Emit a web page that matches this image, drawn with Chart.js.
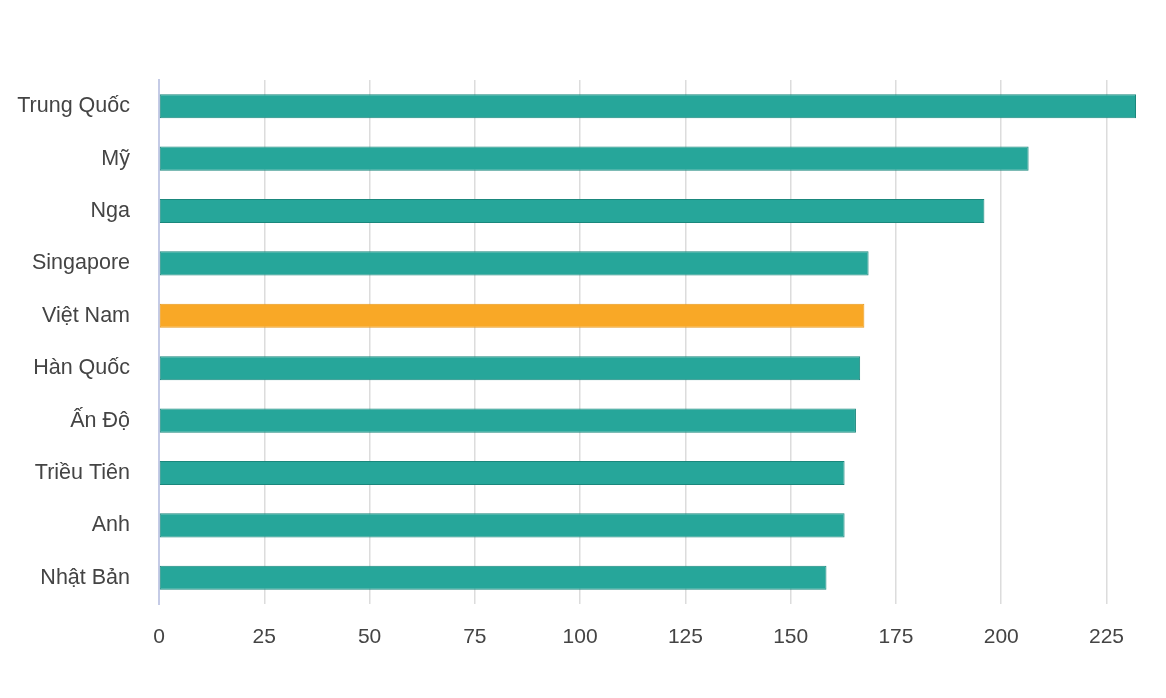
<!DOCTYPE html>
<html>
<head>
<meta charset="utf-8">
<script src="https://cdn.jsdelivr.net/npm/chart.js@4"></script>
<style>
  html, body { margin: 0; padding: 0; background: #fff; }
  #wrap { width: 1166px; height: 698px; position: relative; }
</style>
</head>
<body>
<div id="wrap"><canvas id="chart"></canvas></div>
<script>
const countries = ['Trung Quốc', 'Mỹ', 'Nga', 'Singapore', 'Việt Nam', 'Hàn Quốc', 'Ấn Độ', 'Triều Tiên', 'Anh', 'Nhật Bản']
const values = [232, 206.5, 196, 168.5, 167.5, 166.5, 165.5, 162.8, 162.8, 158.5]
const highlight = 'Việt Nam'
const xTicksMax = 232

const teal = '#26a69a'
const tealEdge = '#1a877c'
const orange = '#f9a826'
const orangeEdge = '#e8991c'

const fontFamily = '"Liberation Sans", Arial, sans-serif'

new Chart(document.getElementById('chart'), {
  type: 'bar',
  data: {
    labels: countries,
    datasets: [
      {
        data: values,
        backgroundColor: countries.map((c) => (c === highlight ? orange : teal)),
        borderColor: countries.map((c) => (c === highlight ? orangeEdge : tealEdge)),
        borderWidth: 1,
        borderSkipped: false,
        categoryPercentage: 1,
        barPercentage: 0.46,
      },
    ],
  },
  options: {
    indexAxis: 'y',
    responsive: true,
    maintainAspectRatio: false,
    animation: false,
    layout: { padding: { top: 80, right: 30, left: 0, bottom: 0 } },
    plugins: { legend: { display: false }, tooltip: { enabled: false } },
    scales: {
      x: {
        min: 0,
        max: xTicksMax,
        ticks: {
          stepSize: 25,
          includeBounds: false,
          padding: 21,
          color: '#444',
          font: { family: fontFamily, size: 21 },
        },
        grid: {
          drawTicks: false,
          lineWidth: 1.5,
          color: (ctx) => (ctx.tick && ctx.tick.value === 0 ? 'rgba(0,0,0,0)' : '#dcdcdc'),
        },
        border: { display: false },
        afterFit: (scale) => { scale.height = 698 - 604 },
      },
      y: {
        ticks: {
          padding: 29,
          color: '#444',
          font: { family: fontFamily, size: 21.5 },
        },
        grid: { display: false, drawTicks: false },
        border: { display: true, color: '#c5cbe6', width: 2 },
        afterFit: (scale) => { scale.width = 159 },
      },
    },
  },
})
</script>
</body>
</html>
